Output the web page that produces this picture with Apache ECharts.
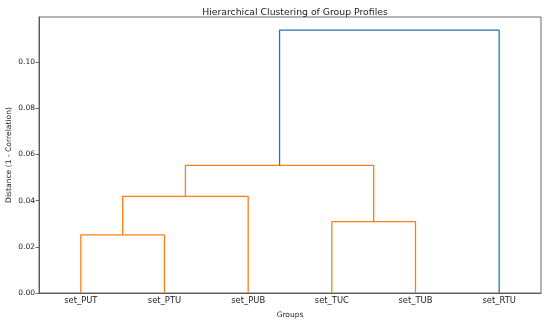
<!DOCTYPE html>
<html>
<head>
<meta charset="utf-8">
<script src="https://cdn.jsdelivr.net/npm/echarts@6/dist/echarts.min.js"></script>
<style>html,body{margin:0;padding:0;background:#fff}#c{width:550px;height:322px}</style>
</head>
<body>
<div id="c"></div>
<script>
// Leaves in dendrogram order
const leaves = ['set_PUT', 'set_PTU', 'set_PUB', 'set_TUC', 'set_TUB', 'set_RTU'];
// Linkage: node indices 0-5 are leaves, merges create nodes 6, 7, ...
const mergeLeft = [0, 6, 3, 7, 9];
const mergeRight = [1, 2, 4, 8, 5];
const mergeHeight = [0.0252, 0.0419, 0.0309, 0.0553, 0.1139];
const mergeColor = ['#ff7f0e', '#ff7f0e', '#ff7f0e', '#ff7f0e', '#1f77b4'];
const yTicks = [0, 0.02, 0.04, 0.06, 0.08, 0.10];
const yMax = 0.1196;

// compute node positions (scipy convention: leaves at 5, 15, 25, ...)
const nodeX = leaves.map((_, i) => 5 + 10 * i);
const nodeY = leaves.map(() => 0);
const series = [];
mergeLeft.forEach((a, k) => {
  const b = mergeRight[k], h = mergeHeight[k];
  const data = [[nodeX[a], nodeY[a]], [nodeX[a], h], [nodeX[b], h], [nodeX[b], nodeY[b]]];
  nodeX.push((nodeX[a] + nodeX[b]) / 2);
  nodeY.push(h);
  series.push({
    type: 'line', xAxisIndex: 1, data: data, symbol: 'none', silent: true,
    lineStyle: { color: mergeColor[k], width: 1.3 }, animation: false
  });
});

const FONT = 'DejaVu Sans';
const TXT = '#222';
const chart = echarts.init(document.getElementById('c'));
chart.setOption({
  animation: false,
  backgroundColor: '#fff',
  title: {
    text: 'Hierarchical Clustering of Group Profiles',
    left: 290, top: 3, textAlign: 'center',
    textStyle: { fontFamily: FONT, fontSize: 9.3, fontWeight: 'normal', color: TXT }
  },
  grid: {
    left: 39, right: 9, top: 17, bottom: 29, outerBoundsMode: 'none', containLabel: false,
    show: true, borderColor: '#444', borderWidth: 0.8, backgroundColor: 'transparent'
  },
  xAxis: [
    {
      type: 'category', data: leaves, boundaryGap: true,
      name: 'Groups', nameLocation: 'middle', nameGap: 18, nameMoveOverlap: false,
      nameTextStyle: { fontFamily: FONT, fontSize: 7.5, color: TXT },
      axisLine: { lineStyle: { color: '#444', width: 0.8 } },
      axisTick: { alignWithLabel: true, length: 3.5, lineStyle: { color: '#444', width: 0.8 } },
      axisLabel: { fontFamily: FONT, fontSize: 8.4, color: TXT, margin: 4 },
      splitLine: { show: false }
    },
    {
      type: 'value', min: 0, max: 60, show: false, splitLine: { show: false }
    }
  ],
  yAxis: {
    type: 'value', min: 0, max: yMax,
    name: 'Distance (1 - Correlation)', nameLocation: 'middle', nameGap: 26, nameMoveOverlap: false,
    nameTextStyle: { fontFamily: FONT, fontSize: 7.6, color: TXT },
    axisLine: { show: true, lineStyle: { color: '#444', width: 0.8 } },
    axisTick: { show: true, length: 3.5, customValues: yTicks, lineStyle: { color: '#444', width: 0.8 } },
    axisLabel: { fontFamily: FONT, fontSize: 7.5, color: TXT, margin: 4,
      customValues: yTicks, formatter: v => v.toFixed(2) },
    splitLine: { show: false }
  },
  series: series
});
</script>
</body>
</html>
